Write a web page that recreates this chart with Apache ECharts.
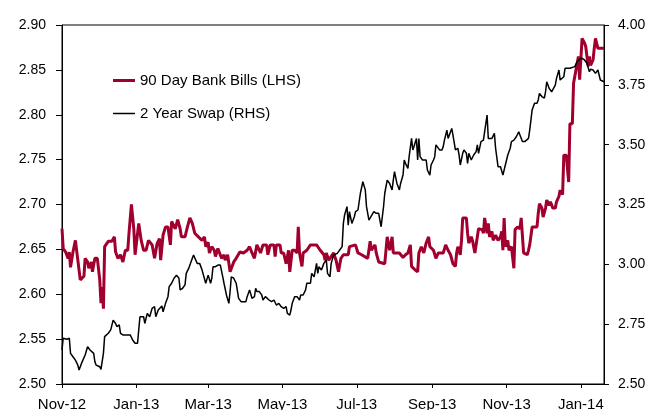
<!DOCTYPE html>
<html>
<head>
<meta charset="utf-8">
<script src="https://cdn.jsdelivr.net/npm/echarts@6/dist/echarts.min.js"></script>
<style>
html,body{margin:0;padding:0;background:#fff;}
#chart{width:651px;height:410px;}
</style>
</head>
<body>
<div id="chart"></div>
<script>
// ---- Data ----
const seriesNames = ['90 Day Bank Bills (LHS)', '2 Year Swap (RHS)'];

const tickDates = ['2012-11-01','2013-01-01','2013-03-01','2013-05-01','2013-07-01','2013-09-01','2013-11-01','2014-01-01'];
const tickLabels = ['Nov-12','Jan-13','Mar-13','May-13','Jul-13','Sep-13','Nov-13','Jan-14'];
const xStart = '2012-11-01';
const xEnd = '2014-01-20';

const billDates = [
'2012-11-01','2012-11-02','2012-11-04','2012-11-06','2012-11-07','2012-11-08','2012-11-09','2012-11-10','2012-11-12','2012-11-14',
'2012-11-16','2012-11-19','2012-11-20','2012-11-22','2012-11-23','2012-11-25','2012-11-26','2012-11-28','2012-11-30','2012-12-02',
'2012-12-03','2012-12-04','2012-12-05','2012-12-06','2012-12-09','2012-12-12','2012-12-14','2012-12-15','2012-12-17','2012-12-19',
'2012-12-21','2012-12-23','2012-12-25','2012-12-26','2012-12-28','2012-12-30','2012-12-31','2013-01-03','2013-01-05','2013-01-07',
'2013-01-09','2013-01-11','2013-01-14','2013-01-16','2013-01-18','2013-01-20','2013-01-21','2013-01-23','2013-01-25','2013-01-27',
'2013-01-29','2013-01-30','2013-02-02','2013-02-04','2013-02-06','2013-02-07','2013-02-10','2013-02-12','2013-02-14','2013-02-16',
'2013-02-18','2013-02-21','2013-02-24','2013-02-26','2013-02-27','2013-03-01','2013-03-02','2013-03-04','2013-03-06','2013-03-07',
'2013-03-09','2013-03-12','2013-03-14','2013-03-15','2013-03-17','2013-03-19','2013-03-22','2013-03-24','2013-03-27','2013-03-30',
'2013-04-02','2013-04-04','2013-04-06','2013-04-08','2013-04-10','2013-04-13','2013-04-15','2013-04-18','2013-04-19','2013-04-21',
'2013-04-24','2013-04-25','2013-04-26','2013-04-29','2013-04-30','2013-05-02','2013-05-04','2013-05-06','2013-05-07','2013-05-09',
'2013-05-11','2013-05-13','2013-05-14','2013-05-15','2013-05-17','2013-05-18','2013-05-21','2013-05-24','2013-05-29','2013-06-01',
'2013-06-04','2013-06-05','2013-06-06','2013-06-08','2013-06-12','2013-06-14','2013-06-16','2013-06-18','2013-06-20','2013-06-24',
'2013-06-25','2013-06-30','2013-07-02','2013-07-05','2013-07-10','2013-07-12','2013-07-13','2013-07-16','2013-07-17','2013-07-19',
'2013-07-24','2013-07-26','2013-07-28','2013-07-30','2013-07-31','2013-08-05','2013-08-08','2013-08-10','2013-08-12','2013-08-14',
'2013-08-15','2013-08-18','2013-08-20','2013-08-21','2013-08-23','2013-08-25','2013-08-27','2013-08-29','2013-08-30','2013-09-02',
'2013-09-04','2013-09-06','2013-09-10','2013-09-12','2013-09-14','2013-09-16','2013-09-18','2013-09-20','2013-09-21','2013-09-22',
'2013-09-24','2013-09-25','2013-09-26','2013-09-29','2013-09-30','2013-10-01','2013-10-03','2013-10-04','2013-10-06','2013-10-07',
'2013-10-09','2013-10-12','2013-10-13','2013-10-14','2013-10-16','2013-10-17','2013-10-18','2013-10-20','2013-10-21','2013-10-23',
'2013-10-25','2013-10-27','2013-10-28','2013-10-29','2013-10-30','2013-10-31','2013-11-02','2013-11-03','2013-11-05','2013-11-07',
'2013-11-08','2013-11-10','2013-11-12','2013-11-13','2013-11-15','2013-11-18','2013-11-19','2013-11-20','2013-11-22','2013-11-26',
'2013-11-27','2013-11-28','2013-11-30','2013-12-01','2013-12-03','2013-12-04','2013-12-06','2013-12-07','2013-12-09','2013-12-11',
'2013-12-12','2013-12-14','2013-12-15','2013-12-17','2013-12-18','2013-12-20','2013-12-22','2013-12-23','2013-12-25','2013-12-26',
'2013-12-28','2013-12-30','2013-12-31','2014-01-01','2014-01-02','2014-01-04','2014-01-05','2014-01-07','2014-01-08','2014-01-09',
'2014-01-11','2014-01-12','2014-01-13','2014-01-15','2014-01-20'
];
const billValues = [
2.673,2.651,2.647,2.640,2.647,2.630,2.630,2.647,2.660,2.638,
2.616,2.620,2.640,2.636,2.629,2.636,2.625,2.640,2.640,2.616,
2.590,2.608,2.584,2.653,2.659,2.659,2.664,2.647,2.640,2.644,
2.636,2.649,2.649,2.668,2.700,2.672,2.644,2.679,2.660,2.649,
2.649,2.660,2.655,2.640,2.656,2.662,2.638,2.666,2.675,2.675,
2.655,2.681,2.673,2.683,2.673,2.664,2.664,2.675,2.685,2.679,
2.668,2.664,2.660,2.664,2.653,2.658,2.646,2.653,2.649,2.642,
2.651,2.640,2.644,2.638,2.644,2.625,2.636,2.640,2.647,2.646,
2.649,2.653,2.646,2.640,2.655,2.646,2.655,2.655,2.644,2.655,
2.655,2.642,2.655,2.655,2.646,2.646,2.634,2.649,2.625,2.649,
2.649,2.646,2.675,2.646,2.631,2.646,2.649,2.655,2.655,2.649,
2.644,2.638,2.646,2.638,2.646,2.638,2.625,2.640,2.644,2.644,
2.653,2.655,2.646,2.644,2.640,2.659,2.649,2.655,2.646,2.636,
2.634,2.664,2.649,2.664,2.646,2.646,2.641,2.644,2.646,2.655,
2.631,2.627,2.625,2.646,2.653,2.646,2.657,2.664,2.653,2.649,
2.640,2.646,2.646,2.655,2.649,2.644,2.634,2.631,2.646,2.653,
2.644,2.660,2.685,2.685,2.668,2.657,2.664,2.660,2.646,2.644,
2.673,2.672,2.668,2.685,2.668,2.679,2.664,2.670,2.660,2.666,
2.660,2.664,2.670,2.649,2.685,2.653,2.660,2.649,2.653,2.629,
2.672,2.675,2.673,2.685,2.646,2.644,2.649,2.655,2.675,2.675,
2.690,2.701,2.696,2.686,2.696,2.705,2.699,2.703,2.696,2.696,
2.703,2.709,2.716,2.711,2.755,2.755,2.725,2.790,2.790,2.835,
2.850,2.865,2.839,2.839,2.885,2.880,2.876,2.854,2.865,2.855,
2.861,2.874,2.885,2.874,2.874
];

const swapDates = [
'2012-11-01','2012-11-02','2012-11-05','2012-11-07','2012-11-08','2012-11-10','2012-11-12','2012-11-14','2012-11-15','2012-11-17',
'2012-11-20','2012-11-22','2012-11-24','2012-11-27','2012-11-28','2012-11-29','2012-12-02','2012-12-03','2012-12-05','2012-12-06',
'2012-12-09','2012-12-11','2012-12-13','2012-12-15','2012-12-16','2012-12-18','2012-12-19','2012-12-21','2012-12-27','2012-12-29',
'2012-12-31','2013-01-02','2013-01-04','2013-01-05','2013-01-07','2013-01-08','2013-01-10','2013-01-12','2013-01-14','2013-01-16',
'2013-01-17','2013-01-19','2013-01-22','2013-01-23','2013-01-25','2013-01-27','2013-01-28','2013-01-30','2013-02-01','2013-02-03',
'2013-02-05','2013-02-06','2013-02-08','2013-02-10','2013-02-11','2013-02-13','2013-02-16','2013-02-17','2013-02-18','2013-02-20',
'2013-02-22','2013-02-24','2013-02-25','2013-02-27','2013-03-01','2013-03-03','2013-03-04','2013-03-05','2013-03-07','2013-03-09',
'2013-03-11','2013-03-13','2013-03-14','2013-03-16','2013-03-18','2013-03-19','2013-03-20','2013-03-22','2013-03-24','2013-03-26',
'2013-03-28','2013-04-01','2013-04-02','2013-04-04','2013-04-06','2013-04-08','2013-04-09','2013-04-10','2013-04-12','2013-04-14',
'2013-04-15','2013-04-17','2013-04-20','2013-04-22','2013-04-24','2013-04-26','2013-04-28','2013-04-30','2013-05-02','2013-05-04',
'2013-05-05','2013-05-07','2013-05-08','2013-05-09','2013-05-11','2013-05-13','2013-05-15','2013-05-16','2013-05-18','2013-05-20',
'2013-05-21','2013-05-24','2013-05-25','2013-05-27','2013-05-29','2013-05-30','2013-05-31','2013-06-02','2013-06-04','2013-06-06',
'2013-06-07','2013-06-09','2013-06-10','2013-06-12','2013-06-15','2013-06-17','2013-06-19','2013-06-20','2013-06-21','2013-06-23',
'2013-06-24','2013-06-25','2013-06-27','2013-06-29','2013-06-30','2013-07-02','2013-07-04','2013-07-05','2013-07-06','2013-07-08',
'2013-07-09','2013-07-11','2013-07-12','2013-07-15','2013-07-17','2013-07-19','2013-07-20','2013-07-21','2013-07-23','2013-07-24',
'2013-07-26','2013-07-28','2013-07-30','2013-07-31','2013-08-01','2013-08-03','2013-08-05','2013-08-06','2013-08-08','2013-08-09',
'2013-08-10','2013-08-12','2013-08-13','2013-08-15','2013-08-16','2013-08-17','2013-08-19','2013-08-20','2013-08-21','2013-08-22',
'2013-08-24','2013-08-25','2013-08-27','2013-08-28','2013-08-30','2013-08-31','2013-09-02','2013-09-03','2013-09-04','2013-09-05',
'2013-09-07','2013-09-09','2013-09-10','2013-09-11','2013-09-13','2013-09-14','2013-09-15','2013-09-17','2013-09-18','2013-09-20',
'2013-09-22','2013-09-23','2013-09-24','2013-09-26','2013-09-27','2013-09-29','2013-09-30','2013-10-01','2013-10-03','2013-10-05',
'2013-10-07','2013-10-08','2013-10-09','2013-10-11','2013-10-13','2013-10-14','2013-10-16','2013-10-17','2013-10-20','2013-10-22',
'2013-10-23','2013-10-25','2013-10-27','2013-10-28','2013-10-29','2013-10-31','2013-11-01','2013-11-02','2013-11-04','2013-11-05',
'2013-11-07','2013-11-08','2013-11-09','2013-11-11','2013-11-12','2013-11-14','2013-11-16','2013-11-17','2013-11-19','2013-11-20',
'2013-11-22','2013-11-23','2013-11-24','2013-11-26','2013-11-27','2013-11-28','2013-11-30','2013-12-02','2013-12-03','2013-12-04',
'2013-12-06','2013-12-08','2013-12-09','2013-12-11','2013-12-12','2013-12-14','2013-12-15','2013-12-18','2013-12-19','2013-12-23',
'2013-12-27','2013-12-29','2013-12-31','2014-01-02','2014-01-03','2014-01-04','2014-01-06','2014-01-07','2014-01-08','2014-01-09',
'2014-01-11','2014-01-13','2014-01-15','2014-01-17','2014-01-20'
];
const swapValues = [
2.642,2.691,2.687,2.691,2.628,2.614,2.600,2.579,2.558,2.586,
2.621,2.656,2.642,2.628,2.593,2.579,2.572,2.561,2.628,2.698,
2.712,2.726,2.767,2.753,2.740,2.747,2.712,2.705,2.705,2.684,
2.670,2.670,2.781,2.788,2.781,2.753,2.795,2.781,2.816,2.823,
2.781,2.809,2.826,2.802,2.837,2.865,2.907,2.921,2.942,2.955,
2.942,2.893,2.900,2.914,2.962,2.983,3.025,3.039,3.046,3.004,
3.004,2.976,2.983,2.921,2.955,2.921,2.942,2.990,2.990,2.997,
2.997,2.948,2.921,2.872,2.837,2.886,2.948,2.942,2.921,2.858,
2.844,2.844,2.865,2.893,2.858,2.865,2.900,2.886,2.886,2.872,
2.851,2.865,2.851,2.844,2.851,2.830,2.837,2.823,2.816,2.823,
2.795,2.788,2.809,2.837,2.865,2.865,2.851,2.872,2.872,2.893,
2.921,2.921,2.962,2.948,3.004,2.962,2.990,2.976,3.004,3.018,
2.962,2.948,3.004,3.039,3.046,3.060,3.074,3.171,3.206,3.241,
3.164,3.220,3.171,3.199,3.220,3.227,3.297,3.297,3.345,3.311,
3.241,3.185,3.192,3.220,3.213,3.213,3.185,3.157,3.241,3.297,
3.352,3.338,3.311,3.352,3.387,3.338,3.311,3.338,3.373,3.436,
3.422,3.401,3.450,3.526,3.478,3.492,3.526,3.436,3.526,3.450,
3.436,3.443,3.436,3.394,3.373,3.415,3.436,3.450,3.499,3.499,
3.478,3.478,3.492,3.519,3.561,3.526,3.526,3.568,3.540,3.478,
3.485,3.457,3.415,3.464,3.478,3.464,3.422,3.464,3.436,3.457,
3.471,3.499,3.464,3.513,3.519,3.526,3.624,3.526,3.526,3.547,
3.485,3.408,3.408,3.401,3.373,3.415,3.436,3.457,3.485,3.513,
3.519,3.519,3.533,3.554,3.540,3.513,3.513,3.519,3.526,3.561,
3.645,3.659,3.673,3.673,3.687,3.714,3.701,3.694,3.721,3.763,
3.735,3.721,3.728,3.749,3.777,3.812,3.770,3.784,3.819,3.819,
3.826,3.847,3.857,3.861,3.868,3.854,3.840,3.833,3.805,3.815,
3.812,3.798,3.812,3.770,3.763
];

// ---- Build chart ----
function ts(s) { const p = s.split('-'); return Date.UTC(+p[0], +p[1] - 1, +p[2]); }
const tickVals = tickDates.map(ts);
const billData = billDates.map((d, i) => [ts(d), billValues[i]]);
const swapData = swapDates.map((d, i) => [ts(d), swapValues[i]]);

const RED = '#A1002F';
const FONT = 'Arial, "Liberation Sans", sans-serif';
const chart = echarts.init(document.getElementById('chart'), null, { renderer: 'canvas' });
chart.setOption({
  animation: false,
  backgroundColor: '#ffffff',
  grid: {
    left: 62, right: 47, top: 25, bottom: 26, containLabel: false, outerBoundsMode: 'none',
    show: true, borderColor: '#000', borderWidth: 1, backgroundColor: 'transparent'
  },
  legend: {
    orient: 'vertical', left: 108, top: 68, padding: 5, itemWidth: 22, itemHeight: 14, itemGap: 18,
    symbolKeepAspect: true,
    textStyle: { fontFamily: FONT, fontSize: 15, color: '#000' },
    data: [
      { name: seriesNames[0], icon: 'path://M0,0 L22,0 L22,3 L0,3 Z', itemStyle: { color: RED } },
      { name: seriesNames[1], icon: 'path://M0,0 L22,0 L22,1.5 L0,1.5 Z', itemStyle: { color: '#000' } }
    ]
  },
  xAxis: {
    type: 'value',
    min: ts(xStart), max: ts(xEnd),
    axisLine: { show: true, lineStyle: { color: '#000', width: 1 } },
    axisTick: { show: true, customValues: tickVals, length: 4, lineStyle: { color: '#000' } },
    axisLabel: {
      customValues: tickVals, margin: 13, color: '#000', fontFamily: FONT, fontSize: 15,
      formatter: function (v) {
        let best = 0, bd = Infinity;
        tickVals.forEach((t, i) => { const dd = Math.abs(t - v); if (dd < bd) { bd = dd; best = i; } });
        return tickLabels[best];
      }
    },
    splitLine: { show: false }
  },
  yAxis: [
    {
      type: 'value', min: 2.5, max: 2.9, interval: 0.05, position: 'left',
      axisLine: { show: true, lineStyle: { color: '#000', width: 1 } },
      axisTick: { show: true, length: 6, lineStyle: { color: '#000' } },
      axisLabel: { margin: 16, color: '#000', fontFamily: FONT, fontSize: 14, formatter: v => v.toFixed(2) },
      splitLine: { show: false }
    },
    {
      type: 'value', min: 2.5, max: 4.0, interval: 0.25, position: 'right',
      axisLine: { show: true, lineStyle: { color: '#000', width: 1 } },
      axisTick: { show: true, length: 5, lineStyle: { color: '#000' } },
      axisLabel: { margin: 14, color: '#000', fontFamily: FONT, fontSize: 14, formatter: v => v.toFixed(2) },
      splitLine: { show: false }
    }
  ],
  series: [
    {
      name: seriesNames[0], type: 'line', yAxisIndex: 0, data: billData,
      symbol: 'none', lineStyle: { color: RED, width: 3 }, itemStyle: { color: RED }
    },
    {
      name: seriesNames[1], type: 'line', yAxisIndex: 1, data: swapData,
      symbol: 'none', lineStyle: { color: '#000000', width: 1.5 }, itemStyle: { color: '#000000' }
    }
  ]
});
</script>
</body>
</html>
